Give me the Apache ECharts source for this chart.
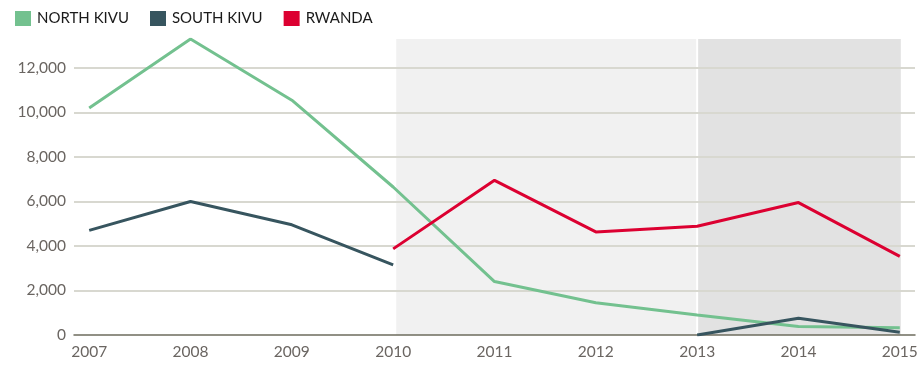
<!DOCTYPE html>
<html>
<head>
<meta charset="utf-8">
<script src="https://cdn.jsdelivr.net/npm/echarts@6/dist/echarts.min.js"></script>
<style>
  html, body { margin: 0; padding: 0; background: #fff; }
  #chart { width: 921px; height: 366px; }
</style>
</head>
<body>
<div id="chart"></div>
<script>
// Years on the x axis
const years = [2007, 2008, 2009, 2010, 2011, 2012, 2013, 2014, 2015];

// Yearly figures per region (null = no figure for that year)
const northKivu = [10200, 13300, 10550, 6650, 2400, 1450, 900, 380, 330];
const southKivu = [4700, 6000, 4950, 3150, null, null, 0, 750, 120];
const rwanda    = [null, null, null, 3870, 6950, 4630, 4890, 5950, 3530];

// Y axis tick values
const yTicks = [0, 2000, 4000, 6000, 8000, 10000, 12000];

// Shaded periods: [start year, end year]
const periodLight = [2010.03, 2012.99];
const periodDark  = [2013.01, 2015.01];

const FONT = 'Lato, "Source Sans Pro", sans-serif';

function pairs(values) {
  return years.map((y, i) => [y, values[i]]);
}

const chart = echarts.init(document.getElementById('chart'), null, { renderer: 'canvas' });

chart.setOption({
  animation: false,
  textStyle: { fontFamily: FONT },
  legend: {
    left: 10,
    top: 6,
    icon: 'rect',
    itemWidth: 16,
    itemHeight: 15,
    itemGap: 21,
    textStyle: { fontSize: 15, color: '#1a1a1a', fontFamily: FONT, padding: [0, 0, 0, 1] },
    data: ['NORTH KIVU', 'SOUTH KIVU', 'RWANDA']
  },
  grid: { left: 74, right: 6, top: 39, bottom: 31, containLabel: false },
  xAxis: {
    type: 'value',
    min: 2006.85,
    max: 2015.15,
    axisLine: { show: true, lineStyle: { color: '#6e6c5e', width: 1.5 } },
    axisTick: { show: false },
    splitLine: { show: false },
    axisLabel: {
      customValues: years,
      color: '#6a6561',
      fontSize: 15.5,
      margin: 9,
      fontFamily: FONT,
      formatter: v => String(v)
    }
  },
  yAxis: {
    type: 'value',
    min: 0,
    max: 13300,
    axisLine: { show: false },
    axisTick: { show: false },
    splitLine: {
      show: true,
      showMaxLine: false,
      showMinLine: false,
      lineStyle: { color: '#d8d8d0', width: 2 }
    },
    axisLabel: {
      customValues: yTicks,
      color: '#6a6561',
      fontSize: 15.5,
      margin: 8,
      fontFamily: FONT,
      formatter: v => v.toLocaleString('en-US')
    },
    interval: 2000
  },
  series: [
    {
      name: 'periods',
      type: 'line',
      data: [],
      z: -1,
      silent: true,
      markArea: {
        silent: true,
        z: -1,
        data: [
          [{ xAxis: periodLight[0], itemStyle: { color: '#f1f1f1' } }, { xAxis: periodLight[1] }],
          [{ xAxis: periodDark[0], itemStyle: { color: '#e2e2e2' } }, { xAxis: periodDark[1] }]
        ]
      }
    },
    {
      name: 'NORTH KIVU',
      type: 'line',
      data: pairs(northKivu),
      showSymbol: false,
      symbol: 'none',
      itemStyle: { color: '#73c18f' },
      lineStyle: { color: '#73c18f', width: 3 },
      z: 3
    },
    {
      name: 'SOUTH KIVU',
      type: 'line',
      data: pairs(southKivu),
      showSymbol: false,
      symbol: 'none',
      connectNulls: false,
      itemStyle: { color: '#37555f' },
      lineStyle: { color: '#37555f', width: 3 },
      z: 4
    },
    {
      name: 'RWANDA',
      type: 'line',
      data: pairs(rwanda),
      showSymbol: false,
      symbol: 'none',
      itemStyle: { color: '#dc0031' },
      lineStyle: { color: '#dc0031', width: 3 },
      z: 5
    }
  ]
});
</script>
</body>
</html>
